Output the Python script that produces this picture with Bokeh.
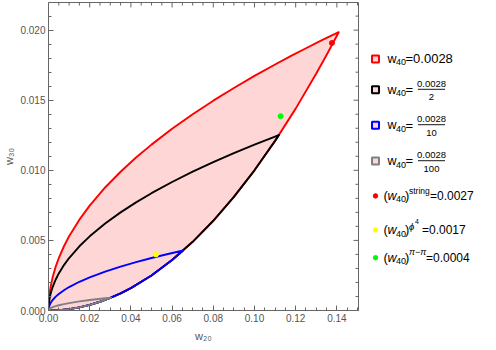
from bokeh.plotting import figure
from bokeh.models import Range1d, LinearAxis, FixedTicker, PrintfTickFormatter
from bokeh.layouts import row
from bokeh.embed import file_html
from bokeh.resources import INLINE
from bokeh.core.properties import value

FONT = "Liberation Sans"

# ---------------- data ----------------
# shared lower boundary of every region
base_w20 = [0.0, 0.005, 0.01, 0.015, 0.02, 0.025, 0.03, 0.035, 0.04, 0.05,
            0.06, 0.07, 0.08, 0.09, 0.10, 0.11, 0.12, 0.13, 0.135]
base_w30 = [0.0, 0.000025, 0.0001, 0.000225, 0.0004, 0.000625, 0.0009, 0.001225,
            0.0016, 0.0025, 0.0036, 0.0049, 0.0064, 0.0081, 0.0100, 0.0121,
            0.0144, 0.0169, 0.018225]

# upper boundaries (each ends in the region's corner)
red_w20 = [0.0, 0.0001, 0.0005, 0.001, 0.002, 0.0035, 0.005, 0.0075, 0.01, 0.015,
           0.02, 0.0275, 0.035, 0.0425, 0.05, 0.06, 0.07, 0.08, 0.09, 0.10, 0.11,
           0.118, 0.125, 0.133, 0.1409]
red_w30 = [0.0, 0.000529, 0.001183, 0.001673, 0.002366, 0.00313, 0.003742, 0.004583,
           0.005292, 0.006481, 0.007483, 0.008775, 0.009899, 0.010909, 0.011832,
           0.012961, 0.0140, 0.014967, 0.015875, 0.016733, 0.01755, 0.018177,
           0.018708, 0.019298, 0.01985]

black_w20 = [0.0, 0.0001, 0.0005, 0.001, 0.002, 0.0035, 0.005, 0.0075, 0.01, 0.015,
             0.02, 0.0275, 0.035, 0.0425, 0.05, 0.06, 0.07, 0.08, 0.09, 0.10, 0.11,
             0.1119]
black_w30 = [0.0, 0.000374, 0.000837, 0.001183, 0.001673, 0.002214, 0.002646, 0.00324,
             0.003742, 0.004583, 0.005292, 0.006205, 0.0070, 0.007714, 0.008367,
             0.009165, 0.009899, 0.010583, 0.011225, 0.011832, 0.01241, 0.01252]

blue_w20 = [0.0, 0.0001, 0.0005, 0.001, 0.002, 0.0035, 0.005, 0.0075, 0.01, 0.015,
            0.02, 0.0275, 0.035, 0.0425, 0.05, 0.058, 0.0654]
blue_w30 = [0.0, 0.000167, 0.000374, 0.000529, 0.000748, 0.00099, 0.001183, 0.001449,
            0.001673, 0.002049, 0.002366, 0.002775, 0.00313, 0.00345, 0.003742,
            0.00403, 0.00428]

gray_w20 = [0.0, 0.0001, 0.0005, 0.001, 0.002, 0.0035, 0.005, 0.0075, 0.01, 0.015,
            0.02, 0.0275, 0.0304]
gray_w30 = [0.0, 0.0000529, 0.000118, 0.000167, 0.000237, 0.000313, 0.000374,
            0.000458, 0.000529, 0.000648, 0.000748, 0.000878, 0.00092]

# points
pt_w20 = [0.1376, 0.0522, 0.1127]
pt_w30 = [0.01908, 0.0040, 0.01386]
pt_colors = ["#ff0000", "#ffff00", "#00ff00"]

# legend texts
region_colors = ["#ff0000", "#000000", "#0000ff", "#808080"]
w40_value = "0.0028"
w40_denominators = ["2", "10", "100"]
point_sups = ["string", "\u03d5", "\u03c0\u2212\u03c0"]
point_values = ["0.0027", "0.0017", "0.0004"]

x_ticks = [0.0, 0.02, 0.04, 0.06, 0.08, 0.10, 0.12, 0.14]
y_ticks = [0.0, 0.005, 0.010, 0.015, 0.020]
x_minor = [i * 0.005 for i in range(31)]
y_minor = [i * 0.001 for i in range(23)]

FILL = "#ffd6d6"
AXC = "#666666"
LBC = "#555555"

XMAX, YMAX = 0.1505, 0.02197
FW, FH = 310, 308

# ---------------- main plot ----------------
p = figure(frame_width=FW, frame_height=FH, output_backend="svg",
           toolbar_location=None,
           x_range=Range1d(0, XMAX), y_range=Range1d(0, YMAX),
           min_border_left=48, min_border_right=2, min_border_top=2,
           min_border_bottom=32, x_axis_location=None, y_axis_location=None)
p.grid.visible = False
p.outline_line_color = AXC


def outline(ux, uy):
    cx = ux[-1]
    lx = [x for x in base_w20 if x < cx]
    ly = [y for x, y in zip(base_w20, base_w30) if x < cx]
    return list(ux) + lx[::-1], list(uy) + ly[::-1]


regions = [(red_w20, red_w30), (black_w20, black_w30), (blue_w20, blue_w30),
           (gray_w20, gray_w30)]
outlines = [outline(ux, uy) for ux, uy in regions]
for ox, oy in outlines:
    p.patch(ox, oy, fill_color=FILL, line_color=None)
for (ox, oy), c in zip(outlines, region_colors):
    p.line(ox + [ox[0]], oy + [oy[0]], line_color=c, line_width=1.9,
           line_join="round")

p.scatter(pt_w20, pt_w30, size=5, color=pt_colors)


def mk_axis(ticks, minor, fmt, label):
    ax = LinearAxis(ticker=FixedTicker(ticks=ticks, minor_ticks=minor),
                    formatter=PrintfTickFormatter(format=fmt))
    ax.axis_line_color = AXC
    ax.major_tick_line_color = AXC
    ax.minor_tick_line_color = AXC
    ax.major_tick_in = 5
    ax.major_tick_out = 0
    ax.minor_tick_in = 3
    ax.minor_tick_out = 0
    ax.major_label_text_font = FONT
    ax.major_label_text_font_size = "10px"
    ax.major_label_text_color = LBC
    ax.major_label_standoff = 3
    ax.axis_label = label
    ax.axis_label_text_font = FONT
    ax.axis_label_text_font_size = "11px"
    ax.axis_label_text_font_style = "normal"
    ax.axis_label_text_color = LBC
    return ax


xa = mk_axis(x_ticks, x_minor, "%.2f", "w\u2082\u2080")
xa.axis_label_standoff = 5
ya = mk_axis(y_ticks, y_minor, "%.3f", "w\u2083\u2080")
ya.axis_label_standoff = 2
p.add_layout(xa, "below")
p.add_layout(ya, "left")

# tick marks on the top and right frame edges (inward)
kx, ky = XMAX / FW, YMAX / FH
tx_major = [t for t in x_ticks if 0 < t < XMAX]
tx_minor = [t for t in x_minor if 0 < t < XMAX and t not in tx_major]
ty_major = [t for t in y_ticks if 0 < t < YMAX]
ty_minor = [t for t in y_minor if 0 < t < YMAX and t not in ty_major]
for ts, ln in ((tx_major, 5), (tx_minor, 3)):
    p.segment(x0=ts, y0=[YMAX] * len(ts), x1=ts, y1=[YMAX - ln * ky] * len(ts),
              line_color=AXC, line_width=1)
for ts, ln in ((ty_major, 5), (ty_minor, 3)):
    p.segment(x0=[XMAX] * len(ts), y0=ts, x1=[XMAX - ln * kx] * len(ts), y1=ts,
              line_color=AXC, line_width=1)

# ---------------- legend panel ----------------
LX0 = 360
leg = figure(width=480 - LX0, height=344, output_backend="svg", toolbar_location=None,
             x_range=Range1d(LX0, 480), y_range=Range1d(344, 0),
             min_border=0, x_axis_location=None, y_axis_location=None)
leg.grid.visible = False
leg.outline_line_color = None


def txt(x, y, s, size, italic=False, align="left"):
    leg.text(x=[x], y=[y], text=[s], text_font=value(FONT),
             text_font_size=value(f"{size}px"),
             text_font_style="italic" if italic else "normal",
             text_baseline="middle", text_align=align, text_color="black")


sq_y = [63, 97.5, 137, 177]
for i, (c, y) in enumerate(zip(region_colors, sq_y)):
    leg.scatter([375], [y], marker="square", size=7, fill_color=FILL,
                line_color=c, line_width=2)
    txt(387, y, "w", 12.5)
    txt(395.5, y + 4, "40", 9)
    if i == 0:
        txt(405, y, "=" + w40_value, 13)
    else:
        txt(405, y, "=", 13)
        cx = 431
        txt(cx, y - 6.5, w40_value, 9.5, align="center")
        leg.segment(x0=[cx - 13.5], y0=[y - 0.5], x1=[cx + 13.5], y1=[y - 0.5],
                    line_color="#444444", line_width=1.3)
        txt(cx, y + 8.5, w40_denominators[i - 1], 9.5, align="center")

pt_y = [216, 254, 285]
eq_x = [429.5, 421.5, 425.5]
for i, (c, y) in enumerate(zip(pt_colors, pt_y)):
    leg.scatter([375], [y], size=4.5, color=c)
    txt(383, y, "(", 13)
    txt(387, y, "w", 12.5, italic=True)
    txt(395.5, y + 4, "40", 9)
    txt(404.5, y, ")", 13)
    if i == 0:
        txt(408.5, y - 6, point_sups[0], 8.5)
    elif i == 1:
        txt(408.5, y - 4, point_sups[1], 9.5, italic=True)
        txt(414.5, y - 9, "4", 7)
    else:
        txt(408.5, y - 6, point_sups[2], 9, italic=True)
    txt(eq_x[i], y, "=" + point_values[i], 12)

layout = row(p, leg)
open("out.html", "w").write(file_html(layout, INLINE))
